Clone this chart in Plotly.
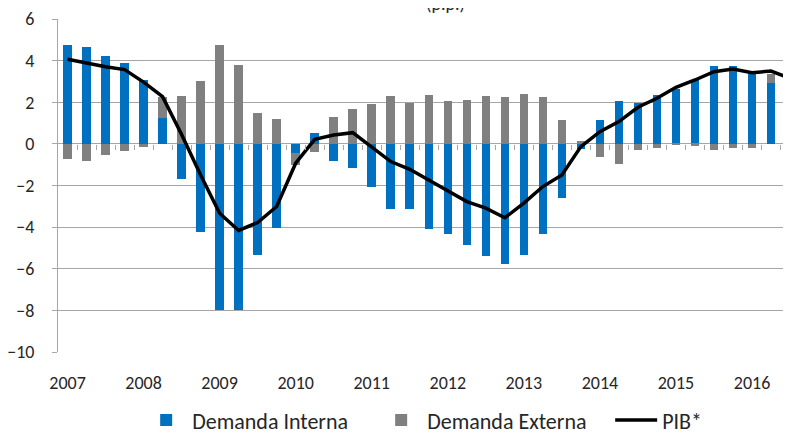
import plotly.graph_objects as go

years = ["2007", "2008", "2009", "2010", "2011", "2012", "2013", "2014", "2015", "2016"]
quarters = [f"{y}T{q}" for y in range(2007, 2017) for q in range(1, 5)][:39]

demanda_interna = [4.75, 4.64, 4.21, 3.90, 3.07, 1.22, -1.68, -4.24, -7.97, -8.00,
                   -5.33, -4.05, -0.42, 0.51, -0.83, -1.15, -2.05, -3.14, -3.14, -4.10,
                   -4.32, -4.86, -5.39, -5.76, -5.33, -4.32, -2.58, -0.25, 1.15, 2.06,
                   1.98, 2.34, 2.63, 3.07, 3.73, 3.73, 3.36, 2.93, 2.56]
demanda_externa = [-0.72, -0.83, -0.54, -0.34, -0.13, 1.02, 2.32, 3.04, 4.75, 3.78,
                   1.50, 1.20, -0.58, -0.40, 1.31, 1.69, 1.90, 2.32, 1.97, 2.37,
                   2.06, 2.11, 2.32, 2.26, 2.38, 2.27, 1.15, 0.12, -0.61, -0.98,
                   -0.29, -0.18, -0.03, -0.08, -0.29, -0.18, -0.18, 0.45, 0.54]
pib = [4.07, 3.87, 3.71, 3.57, 2.97, 2.27, 0.45, -1.50, -3.33, -4.16,
       -3.78, -3.01, -0.93, 0.22, 0.43, 0.54, -0.13, -0.85, -1.22, -1.73,
       -2.24, -2.77, -3.09, -3.55, -2.85, -2.05, -1.49, -0.13, 0.59, 1.07,
       1.76, 2.19, 2.72, 3.07, 3.47, 3.60, 3.42, 3.50, 3.15]
y_ticks = [-10, -8, -6, -4, -2, 0, 2, 4, 6]

idx = list(range(len(quarters)))
year_pos = [i for i in idx if i % 4 == 0]
boundaries = [i + 0.5 for i in idx]

FONT = "Carlito, Calibri, 'Open Sans', sans-serif"
GRID = "#A6A6A6"
xr = [-0.5, 38.05]

fig = go.Figure()
fig.add_trace(go.Bar(x=idx, y=demanda_interna, name="Demanda Interna",
                     marker=dict(color="#0070C0", line=dict(width=0)), width=0.45))
fig.add_trace(go.Bar(x=idx, y=demanda_externa, name="Demanda Externa",
                     marker=dict(color="#808080", line=dict(width=0)), width=0.45))
fig.add_trace(go.Scatter(x=idx, y=pib, name="PIB*", mode="lines",
                         line=dict(color="#000000", width=3.5), xaxis="x2"))

# page body has an 8px default margin, so the figure is sized to fill the window
fig.update_layout(
    template="none",
    width=783, height=428,
    margin=dict(l=50, r=0, t=11, b=84, pad=0, autoexpand=False),
    paper_bgcolor="white", plot_bgcolor="white",
    barmode="relative", bargap=0,
    font=dict(family=FONT, size=18, color="#262626"),
    showlegend=True,
    legend=dict(orientation="h", x=0.593, xanchor="center", y=-0.205, yanchor="middle",
                font=dict(size=22), itemwidth=42, tracegroupgap=0,
                entrywidth=178, entrywidthmode="pixels",
                bgcolor="rgba(0,0,0,0)"),
    xaxis=dict(range=xr, tickvals=year_pos, ticktext=years, showgrid=False,
               zeroline=False, showline=False, ticks="", ticklabelstandoff=18,
               tickfont=dict(size=18), automargin=False),
    xaxis2=dict(range=xr, overlaying="x", anchor="free", position=0.625,
                tickvals=boundaries, ticks="outside", ticklen=5, tickcolor=GRID,
                tickwidth=1, showticklabels=False, showgrid=False, zeroline=False,
                showline=False, automargin=False),
    yaxis=dict(range=[-10, 6], tickvals=y_ticks, showgrid=True, gridcolor=GRID,
               gridwidth=1, zeroline=True, zerolinecolor=GRID, zerolinewidth=1,
               showline=True, linecolor=GRID, linewidth=1, ticks="outside",
               ticklen=5, tickcolor=GRID, ticklabelstandoff=14,
               tickfont=dict(size=18), automargin=False),
    annotations=[dict(text="(p.p.)", xref="paper", yref="paper", x=0.528, y=1.005,
                      xanchor="center", yanchor="bottom", showarrow=False,
                      font=dict(size=18, color="#262626"))],
)

fig.write_html("out.html")
